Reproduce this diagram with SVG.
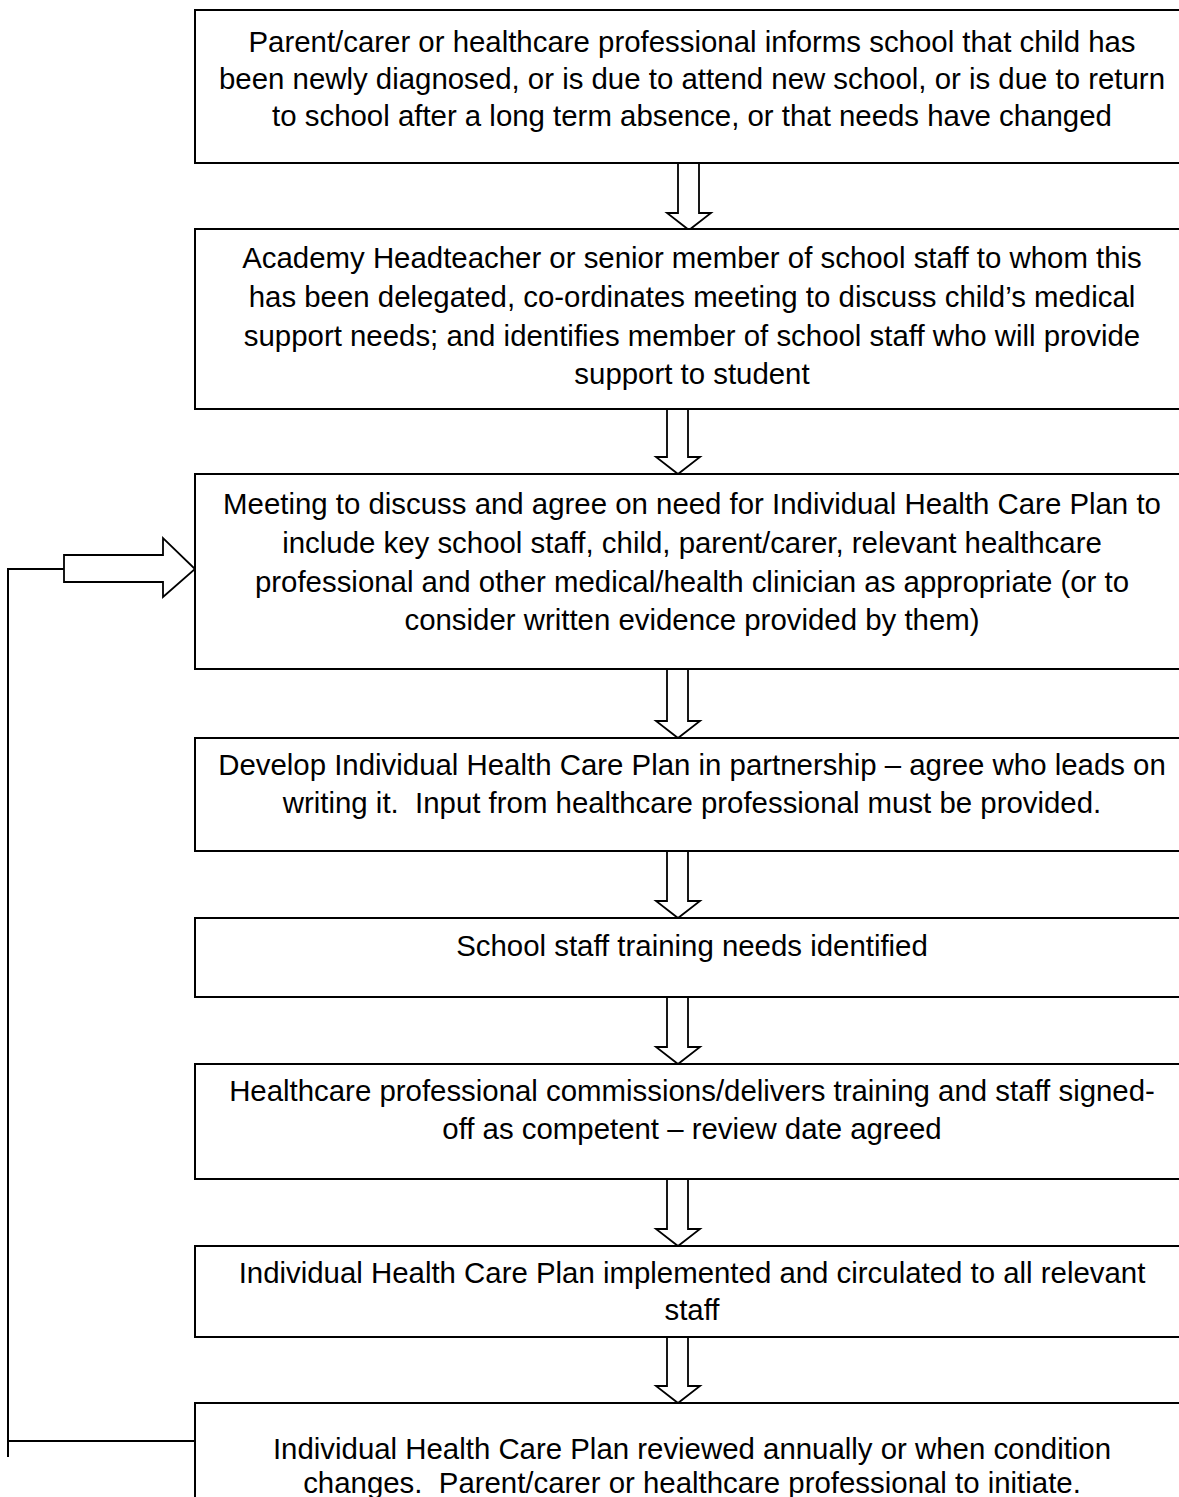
<svg xmlns="http://www.w3.org/2000/svg" width="1179" height="1497" viewBox="0 0 1179 1497">
<style>
.box{fill:#fff;stroke:#000;stroke-width:2}
.arr{fill:#fff;stroke:#000;stroke-width:1.8;stroke-linejoin:miter}
.ln{fill:none;stroke:#000;stroke-width:2}
text{font-family:"Liberation Sans",Arial,sans-serif;font-size:29.4px;fill:#000;text-anchor:middle}
</style>
<rect width="1179" height="1497" fill="#fff"/>
<g id="connectors">
<polygon class="arr" points="678,163 699,163 699,213 711,213 689,230 667,213 678,213"/>
<polygon class="arr" points="667,409 688,409 688,457 700,457 678,474 656,457 667,457"/>
<polygon class="arr" points="667,669 688,669 688,721 700,721 678,738 656,721 667,721"/>
<polygon class="arr" points="667,851 688,851 688,901 700,901 678,918 656,901 667,901"/>
<polygon class="arr" points="667,997 688,997 688,1047 700,1047 678,1064 656,1047 667,1047"/>
<polygon class="arr" points="667,1179 688,1179 688,1229 700,1229 678,1246 656,1229 667,1229"/>
<polygon class="arr" points="667,1337 688,1337 688,1386 700,1386 678,1403 656,1386 667,1386"/>
<polyline class="ln" points="195,1441 8,1441"/>
<polyline class="ln" points="8,1457 8,569 64,569"/>
<polygon class="arr" points="64,555 163,555 163,538 195,569 163,597 163,582 64,582"/>
</g>
<g id="n1"><rect class="box" x="195" y="10" width="1000" height="153"/>
<text x="692" y="52">Parent/carer or healthcare professional informs school that child has</text>
<text x="692" y="89">been newly diagnosed, or is due to attend new school, or is due to return</text>
<text x="692" y="126">to school after a long term absence, or that needs have changed</text></g>
<g id="n2"><rect class="box" x="195" y="229" width="1000" height="180"/>
<text x="692" y="268">Academy Headteacher or senior member of school staff to whom this</text>
<text x="692" y="307">has been delegated, co-ordinates meeting to discuss child’s medical</text>
<text x="692" y="346">support needs; and identifies member of school staff who will provide</text>
<text x="692" y="384">support to student</text></g>
<g id="n3"><rect class="box" x="195" y="474" width="1000" height="195"/>
<text x="692" y="514">Meeting to discuss and agree on need for Individual Health Care Plan to</text>
<text x="692" y="553">include key school staff, child, parent/carer, relevant healthcare</text>
<text x="692" y="592">professional and other medical/health clinician as appropriate (or to</text>
<text x="692" y="630">consider written evidence provided by them)</text></g>
<g id="n4"><rect class="box" x="195" y="738" width="1000" height="113"/>
<text x="692" y="775">Develop Individual Health Care Plan in partnership – agree who leads on</text>
<text x="692" y="813" xml:space="preserve">writing it.  Input from healthcare professional must be provided.</text></g>
<g id="n5"><rect class="box" x="195" y="918" width="1000" height="79"/>
<text x="692" y="956">School staff training needs identified</text></g>
<g id="n6"><rect class="box" x="195" y="1064" width="1000" height="115"/>
<text x="692" y="1101">Healthcare professional commissions/delivers training and staff signed-</text>
<text x="692" y="1139">off as competent – review date agreed</text></g>
<g id="n7"><rect class="box" x="195" y="1246" width="1000" height="91"/>
<text x="692" y="1283">Individual Health Care Plan implemented and circulated to all relevant</text>
<text x="692" y="1320">staff</text></g>
<g id="n8"><rect class="box" x="195" y="1403" width="1000" height="150"/>
<text x="692" y="1459">Individual Health Care Plan reviewed annually or when condition</text>
<text x="692" y="1493" xml:space="preserve">changes.  Parent/carer or healthcare professional to initiate.</text></g>
</svg>
